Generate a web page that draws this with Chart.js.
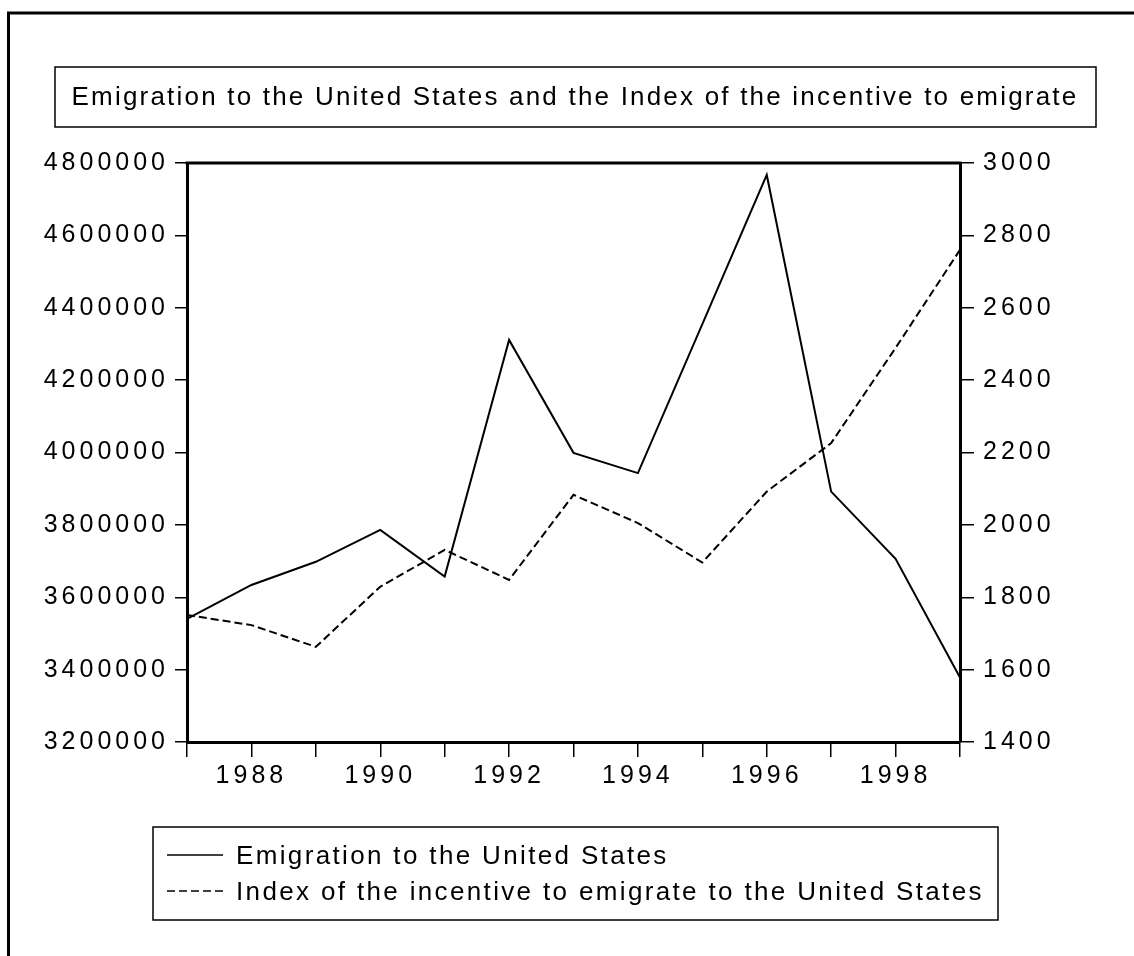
<!DOCTYPE html>
<html>
<head>
<meta charset="utf-8">
<script src="https://cdn.jsdelivr.net/npm/chart.js@4"></script>
<style>
  body { margin: 0; background: #fff; }
  canvas { display: block; }
</style>
</head>
<body>
<canvas id="chart" width="1134" height="956"></canvas>
<script>
// Data
const years = ["1987", "1988", "1989", "1990", "1991", "1992", "1993", "1994", "1995", "1996", "1997", "1998", "1999"];
const xTickLabels = ["", "1988", "", "1990", "", "1992", "", "1994", "", "1996", "", "1998", ""];
const emigration = [3540000, 3634000, 3698000, 3786000, 3657000, 4311000, 3999000, 3943000, 4355000, 4767000, 3892000, 3706000, 3378000];
const incentive = [1751, 1723, 1663, 1829, 1931, 1848, 2083, 2005, 1896, 2092, 2226, 2489, 2760];

const titleText = "Emigration to the United States and the Index of the incentive to emigrate";
const seriesNames = [
  "Emigration to the United States",
  "Index of the incentive to emigrate to the United States",
];

const FONT = "'Liberation Sans', Arial, sans-serif";

// Frame, title box, legend box and top border of the plot
const framePlugin = {
  id: "frame",
  beforeLayout(chart) {
    chart.ctx.letterSpacing = "4px";
  },
  beforeDraw(chart) {
    chart.ctx.letterSpacing = "4px";
  },
  afterDraw(chart) {
    const ctx = chart.ctx;
    const area = chart.chartArea;
    ctx.save();
    ctx.strokeStyle = "#000";
    ctx.fillStyle = "#000";

    // outer frame (left and top only)
    ctx.lineWidth = 3;
    ctx.beginPath();
    ctx.moveTo(8.5, 956);
    ctx.lineTo(8.5, 13);
    ctx.lineTo(1134, 13);
    ctx.stroke();

    // top border of plot area
    ctx.beginPath();
    ctx.moveTo(area.left - 1.5, area.top);
    ctx.lineTo(area.right + 1.5, area.top);
    ctx.stroke();

    // title box
    ctx.lineWidth = 1.5;
    ctx.strokeRect(55, 67, 1041, 60);
    ctx.letterSpacing = "2.2px";
    ctx.font = "26px " + FONT;
    ctx.textAlign = "center";
    ctx.textBaseline = "alphabetic";
    ctx.fillText(titleText, 575, 105);

    // legend box
    ctx.strokeRect(153, 827, 845, 93);
    ctx.textAlign = "left";
    ctx.letterSpacing = "2.35px";
    const rows = [855, 891];
    chart.data.datasets.forEach((ds, i) => {
      const y = rows[i];
      ctx.save();
      ctx.lineWidth = 1.5;
      ctx.setLineDash(ds.borderDash || []);
      ctx.beginPath();
      ctx.moveTo(167, y);
      ctx.lineTo(223, y);
      ctx.stroke();
      ctx.restore();
      ctx.fillText(ds.label, 236, y + 9);
    });
    ctx.restore();
  },
};

const tickFont = { family: FONT, size: 25 };

new Chart(document.getElementById("chart"), {
  type: "line",
  data: {
    labels: years,
    datasets: [
      {
        label: seriesNames[0],
        data: emigration,
        yAxisID: "y",
        borderColor: "#000",
        borderWidth: 2,
        pointRadius: 0,
        tension: 0,
        fill: false,
      },
      {
        label: seriesNames[1],
        data: incentive,
        yAxisID: "y1",
        borderColor: "#000",
        borderWidth: 2,
        borderDash: [8, 4],
        pointRadius: 0,
        tension: 0,
        fill: false,
      },
    ],
  },
  options: {
    responsive: false,
    animation: false,
    devicePixelRatio: 1,
    layout: { padding: { top: 163, left: 0, right: 0, bottom: 0 } },
    plugins: {
      legend: { display: false },
      title: { display: false },
      tooltip: { enabled: false },
    },
    scales: {
      x: {
        type: "category",
        offset: false,
        grid: {
          drawOnChartArea: false,
          drawTicks: true,
          tickLength: 15,
          color: "#000",
          lineWidth: 1.5,
        },
        border: { display: true, color: "#000", width: 3 },
        ticks: {
          autoSkip: false,
          maxRotation: 0,
          padding: 4,
          color: "#000",
          font: tickFont,
          callback: (value, index) => xTickLabels[index],
        },
        afterFit(scale) {
          scale.height = 956 - 742;
        },
      },
      y: {
        position: "left",
        min: 3200000,
        max: 4800000,
        grid: {
          drawOnChartArea: false,
          drawTicks: true,
          tickLength: 12,
          color: "#000",
          lineWidth: 1.5,
        },
        border: { display: true, color: "#000", width: 3 },
        ticks: {
          stepSize: 200000,
          padding: 6,
          color: "#000",
          font: tickFont,
          callback: (value) => String(value),
        },
        afterFit(scale) {
          scale.width = 187;
        },
      },
      y1: {
        position: "right",
        min: 1400,
        max: 3000,
        grid: {
          drawOnChartArea: false,
          drawTicks: true,
          tickLength: 14,
          color: "#000",
          lineWidth: 1.5,
        },
        border: { display: true, color: "#000", width: 3 },
        ticks: {
          stepSize: 200,
          padding: 9,
          color: "#000",
          font: tickFont,
          callback: (value) => String(value),
        },
        afterFit(scale) {
          scale.width = 1134 - 960;
        },
      },
    },
  },
  plugins: [framePlugin],
});
</script>
</body>
</html>
